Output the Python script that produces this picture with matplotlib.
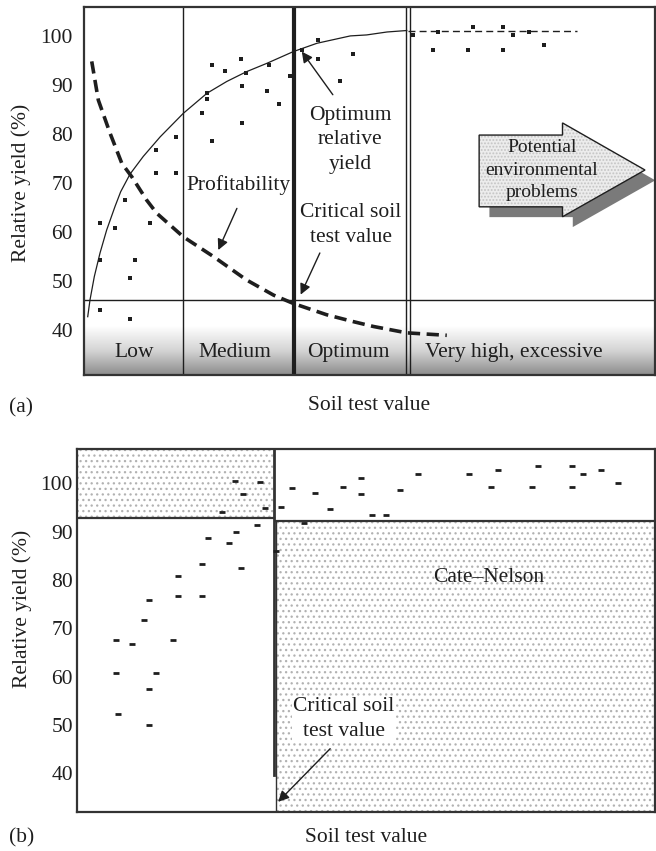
import numpy as np
import matplotlib
matplotlib.use("Agg")
import matplotlib.pyplot as plt
from matplotlib.patches import Polygon, Rectangle
from matplotlib.colors import LinearSegmentedColormap

plt.rcParams['font.family'] = ['Liberation Serif', 'DejaVu Serif']
plt.rcParams['font.size'] = 15.5
plt.rcParams['hatch.linewidth'] = 0.9

INK = '#1e1e1e'
FRAME = '#333333'

# ---------------- panel (a): yield response and sufficiency classes ----------------
y_ticks = [40, 50, 60, 70, 80, 90, 100]

a_obs_x = [22.7, 25.0, 27.8, 28.7, 32.8, 36.5, 21.8, 21.8, 28.0, 32.4, 34.6, 20.9,
           28.0, 22.6, 16.3, 12.8, 12.8, 16.3, 38.6, 41.4, 41.4, 45.4, 47.6, 58.3,
           61.9, 62.8, 68.1, 68.9, 74.3, 74.3, 76.1, 78.8, 81.6, 7.3, 2.8, 5.5,
           11.7, 2.8, 9.0, 8.2, 2.8, 8.2]
a_obs_y = [94.1, 92.9, 95.3, 92.5, 94.0, 91.9, 88.3, 87.1, 89.8, 88.8, 86.1, 84.3,
           82.3, 78.6, 79.4, 76.7, 72.0, 72.0, 97.1, 99.2, 95.3, 90.7, 96.3, 100.1,
           97.1, 100.9, 97.1, 101.9, 101.9, 97.1, 100.1, 100.9, 98.2, 66.5, 61.9, 60.8,
           61.9, 54.3, 54.3, 50.6, 44.1, 42.2]

# fitted response curve
a_resp_x = [0.66, 1.06, 1.83, 2.84, 4.02, 5.50, 6.5, 8.16, 10.5, 13.5, 17.6, 21.8,
            25.3, 28.8, 32.4, 37.1, 41.3, 47.2, 50.1, 53.7, 57.2]
a_resp_y = [42.7, 46.1, 50.9, 55.7, 60.4, 65.2, 68.2, 71.8, 75.4, 79.4, 84.2, 88.3,
            90.7, 92.7, 94.4, 96.8, 98.5, 100.0, 100.2, 100.8, 101.1]
a_plateau_x = [57.5, 87.4]
a_plateau_y = [101.1, 101.1]

# profitability of an added input
a_profit_x = [1.37, 2.54, 4.6, 6.7, 8.5, 11.1, 12.9, 17.6, 22.9, 28.8, 33.6, 37.1,
              43.0, 47.7, 51.3, 57.2, 64.3]
a_profit_y = [94.8, 86.9, 80.2, 74.0, 71.2, 66.5, 63.8, 59.0, 55.0, 50.2, 47.1, 45.4,
              43.1, 41.7, 40.7, 39.4, 38.9]

a_class_edges = [17.55, 37.2, 57.0, 57.8]
a_class_labels = ['Low', 'Medium', 'Optimum', 'Very high, excessive']
a_class_label_x = [8.9, 26.8, 46.8, 76.2]
a_critical = 37.2
a_floor = 46.1

# ---------------- panel (b): Cate–Nelson partition ----------------
b_obs_x = [27.3, 28.7, 25.0, 31.1, 22.7, 27.5, 26.3, 21.6, 28.3, 17.5, 17.5, 21.6,
           12.5, 11.6, 6.7, 9.6, 16.6, 6.7, 13.6, 12.5, 7.1, 12.5, 34.4,
           31.7, 32.5, 35.3, 37.2, 39.2, 41.2, 43.7, 46.1, 49.1, 49.1, 51.0, 53.5,
           55.9, 59.0, 67.9, 72.9, 71.7, 79.8, 78.7, 85.6, 85.6, 87.6, 90.6, 93.6]
b_obs_y = [100.5, 97.8, 94.0, 91.3, 88.7, 90.0, 87.6, 83.4, 82.5, 80.9, 76.7, 76.7,
           75.8, 71.8, 67.6, 66.7, 67.6, 60.8, 60.8, 57.5, 52.2, 50.1, 86.0,
           100.2, 94.8, 95.1, 99.1, 91.8, 98.0, 94.7, 99.3, 101.0, 97.7, 93.4, 93.4,
           98.6, 101.9, 101.9, 102.8, 99.3, 103.5, 99.3, 103.5, 99.3, 101.9, 102.8, 100.1]
b_critical = 34.1
b_split_left = 92.9
b_split_right = 92.3
b_stem_end = 39.6

fig = plt.figure(figsize=(6.56, 8.51), dpi=100)

# ======================= (a) =======================
ax = fig.add_axes([84 / 656, 1 - 375 / 851, 571 / 656, 368 / 851])
ax.set_xlim(0, 101.2)
ax.set_ylim(30.8, 105.9)

shade = LinearSegmentedColormap.from_list('shade', ['#ffffff', '#d4d4d4', '#8c8c8c'])
ax.imshow(np.linspace(0, 1, 256)[:, None], cmap=shade, aspect='auto',
          extent=[0, 101.2, 30.8, 40.6], origin='upper', zorder=0)

for xe in a_class_edges:
    lw = 3.0 if xe == a_critical else 1.0
    ax.axvline(xe, color=INK, lw=lw, zorder=2)
ax.axhline(a_floor, color=INK, lw=1.0, zorder=2)

ax.plot(a_resp_x, a_resp_y, color=INK, lw=0.9, zorder=3)
ax.plot(a_plateau_x, a_plateau_y, color=INK, lw=1.0, ls=(0, (5, 3)), zorder=3)
ax.plot(a_profit_x, a_profit_y, color=INK, lw=2.6, ls=(0, (3.4, 1.8)), zorder=3)
ax.plot(a_obs_x, a_obs_y, ls='none', marker='s', ms=2.3, mew=0, color=INK, zorder=4)

for lab, lx in zip(a_class_labels, a_class_label_x):
    ax.text(lx, 35.3, lab, ha='center', va='center', color=INK, zorder=5)

arrow_kw = dict(arrowstyle='-|>', color=INK, lw=1.0, mutation_scale=16,
                shrinkA=0, shrinkB=0)
ax.text(47.2, 78.8, 'Optimum\nrelative\nyield', ha='center', va='center',
        color=INK, linespacing=1.4)
ax.annotate('', xy=(38.6, 96.8), xytext=(44.1, 88.0), arrowprops=arrow_kw)
ax.text(27.3, 69.6, 'Profitability', ha='center', va='center', color=INK)
ax.annotate('', xy=(23.8, 56.3), xytext=(27.1, 64.8), arrowprops=arrow_kw)
ax.text(47.3, 61.4, 'Critical soil\ntest value', ha='center', va='center',
        color=INK, linespacing=1.4)
ax.annotate('', xy=(38.4, 47.2), xytext=(41.8, 55.7), arrowprops=arrow_kw)

# block arrow (axes fraction) with drop shadow
blk = np.array([[0.692, 0.652], [0.838, 0.652], [0.838, 0.685], [0.9825, 0.557],
                [0.838, 0.430], [0.838, 0.457], [0.692, 0.457]])
ax.add_patch(Polygon(blk + [0.018, -0.028], closed=True, transform=ax.transAxes,
                     fc='#7a7a7a', ec='none', zorder=5, clip_on=False))
ax.add_patch(Polygon(blk, closed=True, transform=ax.transAxes, fc='#ececec',
                     ec='none', zorder=6))
ax.add_patch(Polygon(blk, closed=True, transform=ax.transAxes, fc='none',
                     ec='#c4c4c4', lw=0, hatch='.....', zorder=6))
ax.add_patch(Polygon(blk, closed=True, transform=ax.transAxes, fc='none',
                     ec=INK, lw=1.0, zorder=7))
ax.text(0.8016, 0.557, 'Potential\nenvironmental\nproblems', transform=ax.transAxes,
        ha='center', va='center', fontsize=14, color=INK, linespacing=1.4, zorder=8)

ax.set_yticks(y_ticks)
ax.set_xticks([])
ax.tick_params(axis='y', length=0, pad=8, labelsize=15.5, labelcolor=INK)
ax.set_ylabel('Relative yield (%)', color=INK)
ax.yaxis.set_label_coords(-0.092, 0.522)
ax.set_xlabel('Soil test value', color=INK)
ax.xaxis.set_label_coords(0.5, -0.058)
for s in ax.spines.values():
    s.set_color(FRAME)
    s.set_linewidth(1.6)
    s.set_zorder(9)

fig.text(9 / 656, 1 - 408 / 851, '(a)', ha='left', va='center', color=INK)

# ======================= (b) =======================
bx = fig.add_axes([77 / 656, 1 - 812 / 851, 578 / 656, 363 / 851])
bx.set_xlim(0, 100)
bx.set_ylim(32.0, 107.1)

y0, y1 = bx.get_ylim()
x0, x1 = bx.get_xlim()
bx.add_patch(Rectangle((x0, b_split_left), b_critical - x0, y1 - b_split_left,
                       fc='white', ec='#b2b2b2', lw=0, hatch='...', zorder=0))
bx.add_patch(Rectangle((b_critical + 0.3, y0), x1 - b_critical - 0.3, b_split_right - y0,
                       fc='white', ec='#b2b2b2', lw=0, hatch='...', zorder=0))

bx.plot([x0, b_critical], [b_split_left, b_split_left], color=FRAME, lw=1.6, zorder=2)
bx.plot([b_critical + 0.3, x1], [b_split_right, b_split_right], color=FRAME, lw=1.6, zorder=2)
bx.plot([b_critical, b_critical], [y1, b_stem_end], color=FRAME, lw=2.0, zorder=2)
bx.plot([b_critical + 0.3, b_critical + 0.3], [b_split_right, y0], color=FRAME, lw=1.0, zorder=2)

bx.plot(b_obs_x, b_obs_y, ls='none', marker='_', ms=4.2, mew=2.0, color=INK, zorder=4)

bx.text(71.2, 80.5, 'Cate\u2013Nelson', ha='center', va='center', color=INK)
bx.text(46.2, 51.2, 'Critical soil\ntest value', ha='center', va='center', color=INK,
        linespacing=1.4, bbox=dict(fc='white', ec='none', pad=1.0), zorder=5)
bx.annotate('', xy=(34.8, 34.1), xytext=(43.8, 45.1), arrowprops=arrow_kw, zorder=5)

bx.set_yticks(y_ticks)
bx.set_xticks([])
bx.tick_params(axis='y', length=0, pad=3, labelsize=15.5, labelcolor=INK)
bx.set_ylabel('Relative yield (%)', color=INK)
bx.yaxis.set_label_coords(-0.078, 0.559)
bx.set_xlabel('Soil test value', color=INK)
bx.xaxis.set_label_coords(0.5, -0.045)
for s in bx.spines.values():
    s.set_color(FRAME)
    s.set_linewidth(1.6)
    s.set_zorder(9)

fig.text(9 / 656, 1 - 838 / 851, '(b)', ha='left', va='center', color=INK)

fig.savefig('out.png', dpi=100)
